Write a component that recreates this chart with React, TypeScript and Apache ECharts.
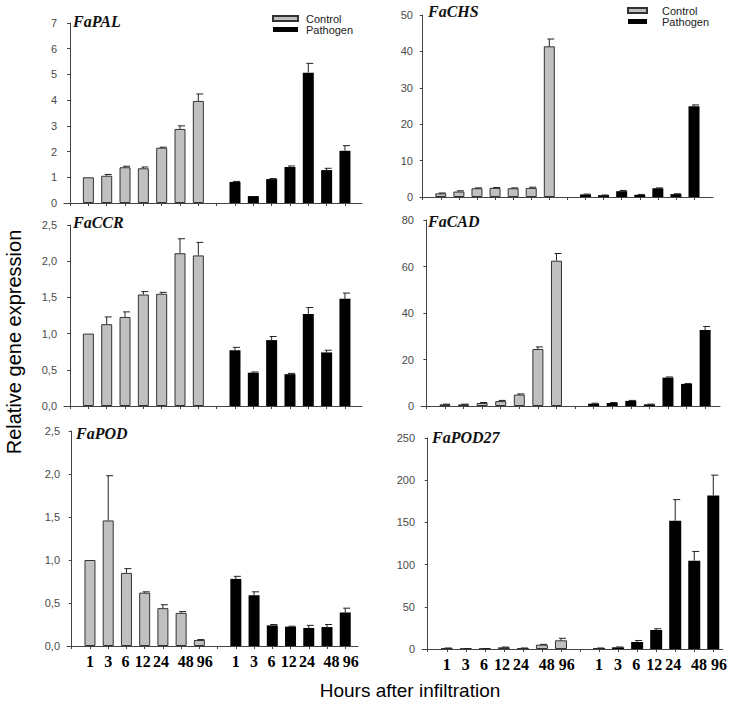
import React, { useEffect, useRef } from "react";
import * as echarts from "echarts";

const hours = ["1", "3", "6", "12", "24", "48", "96"];

const palControl = [1.0, 1.06, 1.39, 1.35, 2.15, 2.88, 3.97];
const palControlErr = [0, 0.05, 0.04, 0.05, 0.02, 0.12, 0.27];
const palPathogen = [0.82, 0.27, 0.93, 1.4, 5.07, 1.28, 2.03];
const palPathogenErr = [0.02, 0, 0.02, 0.04, 0.36, 0.07, 0.2];

const chsControl = [1.0, 1.5, 2.4, 2.5, 2.4, 2.5, 41.4];
const chsControlErr = [0.1, 0.2, 0.1, 0.1, 0.1, 0.2, 2.0];
const chsPathogen = [0.7, 0.5, 1.6, 0.6, 2.4, 0.8, 24.9];
const chsPathogenErr = [0.1, 0.05, 0.2, 0.1, 0.1, 0.1, 0.4];

const ccrControl = [1.0, 1.13, 1.23, 1.54, 1.55, 2.11, 2.08];
const ccrControlErr = [0, 0.1, 0.07, 0.04, 0.02, 0.2, 0.18];
const ccrPathogen = [0.77, 0.46, 0.91, 0.44, 1.27, 0.74, 1.48];
const ccrPathogenErr = [0.04, 0.01, 0.05, 0.01, 0.09, 0.03, 0.08];

const cadControl = [0.7, 0.7, 1.3, 2.1, 4.9, 24.5, 62.5];
const cadControlErr = [0.1, 0.1, 0.2, 0.3, 0.3, 0.9, 3.1];
const cadPathogen = [1.0, 1.3, 2.2, 0.7, 12.2, 9.5, 32.7];
const cadPathogenErr = [0.2, 0.2, 0.2, 0.1, 0.3, 0.2, 1.5];

const podControl = [1.0, 1.46, 0.85, 0.62, 0.44, 0.385, 0.07];
const podControlErr = [0, 0.52, 0.05, 0.01, 0.04, 0.015, 0.005];
const podPathogen = [0.78, 0.59, 0.24, 0.225, 0.21, 0.22, 0.39];
const podPathogenErr = [0.03, 0.04, 0.01, 0.005, 0.03, 0.03, 0.05];

const pod27Control = [1.0, 0.5, 0.5, 2.0, 1.0, 5.1, 10.3];
const pod27ControlErr = [0.2, 0.1, 0.1, 0.3, 0.2, 0.4, 2.4];
const pod27Pathogen = [1.0, 2.0, 8.3, 22.5, 152, 104.6, 182];
const pod27PathogenErr = [0.2, 0.4, 1.8, 1.5, 25, 11, 24];

const yTicks1 = { max: 7, interval: 1 };
const yTicks2 = { max: 50, interval: 10 };
const yTicks3 = { max: 2.5, interval: 0.5 };
const yTicks4 = { max: 80, interval: 20 };
const yTicks5 = { max: 2.5, interval: 0.5 };
const yTicks6 = { max: 250, interval: 50 };

const panels = [
  { name: "FaPAL", c: palControl, ce: palControlErr, p: palPathogen, pe: palPathogenErr, y: yTicks1, dec: false },
  { name: "FaCHS", c: chsControl, ce: chsControlErr, p: chsPathogen, pe: chsPathogenErr, y: yTicks2, dec: false },
  { name: "FaCCR", c: ccrControl, ce: ccrControlErr, p: ccrPathogen, pe: ccrPathogenErr, y: yTicks3, dec: true },
  { name: "FaCAD", c: cadControl, ce: cadControlErr, p: cadPathogen, pe: cadPathogenErr, y: yTicks4, dec: false },
  { name: "FaPOD", c: podControl, ce: podControlErr, p: podPathogen, pe: podPathogenErr, y: yTicks5, dec: true },
  { name: "FaPOD27", c: pod27Control, ce: pod27ControlErr, p: pod27Pathogen, pe: pod27PathogenErr, y: yTicks6, dec: false },
];

// layout per panel: axis left/right px, y of max, y of zero, x-range
const layout = [
  { l: 64, r: 362, t: 23, b: 203, min: -0.33, max: 15.93, bw: 11, titleX: 73, titleY: 22 },
  { l: 420, r: 713, t: 15, b: 197, min: -0.15, max: 16.05, bw: 11, titleX: 428, titleY: 12 },
  { l: 64, r: 362, t: 225, b: 406, min: -0.33, max: 15.93, bw: 11, titleX: 73, titleY: 223 },
  { l: 421, r: 720, t: 220, b: 406, min: -0.29, max: 15.8, bw: 11, titleX: 428, titleY: 222 },
  { l: 67, r: 358, t: 431, b: 646, min: -0.26, max: 15.7, bw: 11, titleX: 76, titleY: 434 },
  { l: 422, r: 725, t: 438, b: 649, min: -0.3, max: 15.5, bw: 12, titleX: 432, titleY: 438 },
];

// small horizontal nudges of the tick labels relative to the bars (layout only)
const labelShift = [0, 0, -0.05, -0.1, -0.1, 0.25, 0.3];

const ctrlPos = hours.map((_, i) => i + 1);
const pathPos = hours.map((_, i) => i + 9);
const tickPos = Array.from({ length: 16 }, (_, i) => i);
const labelPos = [
  ...ctrlPos.map((p, i) => p + labelShift[i]),
  ...pathPos.map((p, i) => p + labelShift[i]),
];

function labelFor(v: number): string {
  let best = 0;
  let bd = Infinity;
  labelPos.forEach((p, j) => {
    const d = Math.abs(p - v);
    if (d < bd) {
      bd = d;
      best = j;
    }
  });
  return hours[best % 7];
}

function errRender(params: any, api: any) {
  const x = api.value(0);
  const v = api.value(1);
  const e = api.value(2);
  if (!e) return null;
  const p0 = api.coord([x, v]);
  const p1 = api.coord([x, v + e]);
  const st = { stroke: "#222", lineWidth: 1 };
  return {
    type: "group",
    children: [
      { type: "line", shape: { x1: p0[0], y1: p0[1], x2: p1[0], y2: p1[1] }, style: st },
      { type: "line", shape: { x1: p1[0] - 2, y1: p1[1], x2: p1[0] + 5, y2: p1[1] }, style: st },
    ],
  };
}

export default function App() {
  const ref = useRef<HTMLDivElement>(null);
  useEffect(() => {
    document.body.style.margin = "0";
    const chart = echarts.init(ref.current!, null, { renderer: "svg" });
    const grids: any[] = [];
    const xAxes: any[] = [];
    const yAxes: any[] = [];
    const series: any[] = [];
    const titles: any[] = [];
    panels.forEach((pn, k) => {
      const L = layout[k];
      const bottomRow = k >= 4;
      grids.push({ left: L.l, width: L.r - L.l, top: L.t, height: L.b - L.t });
      xAxes.push({
        gridIndex: k,
        type: "value",
        min: L.min,
        max: L.max,
        splitLine: { show: false },
        axisLine: { show: true, onZero: false, lineStyle: { color: "#444", width: 1 } },
        axisTick: { show: true, customValues: tickPos, length: 3, lineStyle: { color: "#444" } },
        axisLabel: {
          show: bottomRow,
          customValues: labelPos,
          formatter: (v: number) => labelFor(v),
          color: "#000",
          fontFamily: "Liberation Serif",
          fontWeight: "bold",
          fontSize: 16,
          margin: 7,
        },
      });
      yAxes.push({
        gridIndex: k,
        type: "value",
        min: 0,
        max: pn.y.max,
        interval: pn.y.interval,
        splitLine: { show: false },
        axisLine: { show: true, lineStyle: { color: "#444", width: 1 } },
        axisTick: { show: true, length: 3, lineStyle: { color: "#444" } },
        axisLabel: {
          color: "#4a4a4a",
          fontFamily: "Liberation Sans",
          fontSize: 11,
          margin: 7,
          formatter: (v: number) => (pn.dec ? v.toFixed(1).replace(".", ",") : String(Math.round(v))),
        },
      });
      titles.push({
        text: pn.name,
        left: L.titleX,
        top: L.titleY - 9,
        padding: 0,
        textStyle: {
          fontFamily: "Liberation Serif",
          fontStyle: "italic",
          fontWeight: "bold",
          fontSize: 16,
          color: "#111",
        },
      });
      series.push({
        name: "Control",
        type: "bar",
        xAxisIndex: k,
        yAxisIndex: k,
        barWidth: L.bw,
        barGap: "-100%",
        itemStyle: { color: "#c0c0c0", borderColor: "#333", borderWidth: 1 },
        data: pn.c.map((v, i) => [ctrlPos[i], v]),
      });
      series.push({
        name: "Pathogen",
        type: "bar",
        xAxisIndex: k,
        yAxisIndex: k,
        barWidth: L.bw,
        barGap: "-100%",
        itemStyle: { color: "#000" },
        data: pn.p.map((v, i) => [pathPos[i], v]),
      });
      series.push({
        type: "custom",
        xAxisIndex: k,
        yAxisIndex: k,
        z: 5,
        renderItem: errRender,
        encode: { x: 0, y: 1 },
        data: [
          ...pn.c.map((v, i) => [ctrlPos[i], v, pn.ce[i]]),
          ...pn.p.map((v, i) => [pathPos[i], v, pn.pe[i]]),
        ],
      });
    });

    const legendBase = {
      orient: "vertical",
      icon: "rect",
      itemHeight: 5,
      itemGap: 0,
      padding: 0,
      data: ["Control", "Pathogen"],
      selectedMode: false,
    };

    chart.setOption({
      animation: false,
      backgroundColor: "#fff",
      title: titles,
      legend: [
        {
          ...legendBase,
          left: 272,
          top: 13,
          itemWidth: 25,
          textStyle: { fontFamily: "Liberation Sans", fontSize: 11, lineHeight: 9, color: "#222", padding: [0, 0, 0, 3] },
        },
        {
          ...legendBase,
          left: 627,
          top: 5,
          itemWidth: 19,
          textStyle: { fontFamily: "Liberation Sans", fontSize: 11, lineHeight: 9, color: "#222", padding: [0, 0, 0, 10] },
        },
      ],
      grid: grids,
      xAxis: xAxes,
      yAxis: yAxes,
      series,
      graphic: [
        {
          type: "text",
          x: 14,
          y: 342,
          rotation: Math.PI / 2,
          style: {
            text: "Relative gene expression",
            fontFamily: "Liberation Sans",
            fontSize: 20,
            fill: "#000",
            textAlign: "center",
            textVerticalAlign: "middle",
          },
        },
        {
          type: "text",
          x: 410,
          y: 690,
          style: {
            text: "Hours after infiltration",
            fontFamily: "Liberation Sans",
            fontSize: 19,
            fill: "#000",
            textAlign: "center",
            textVerticalAlign: "middle",
          },
        },
      ],
    });
    return () => chart.dispose();
  }, []);
  return (
    <div
      ref={ref}
      style={{ position: "fixed", left: 0, top: 0, width: 730, height: 703, background: "#fff" }}
    />
  );
}
